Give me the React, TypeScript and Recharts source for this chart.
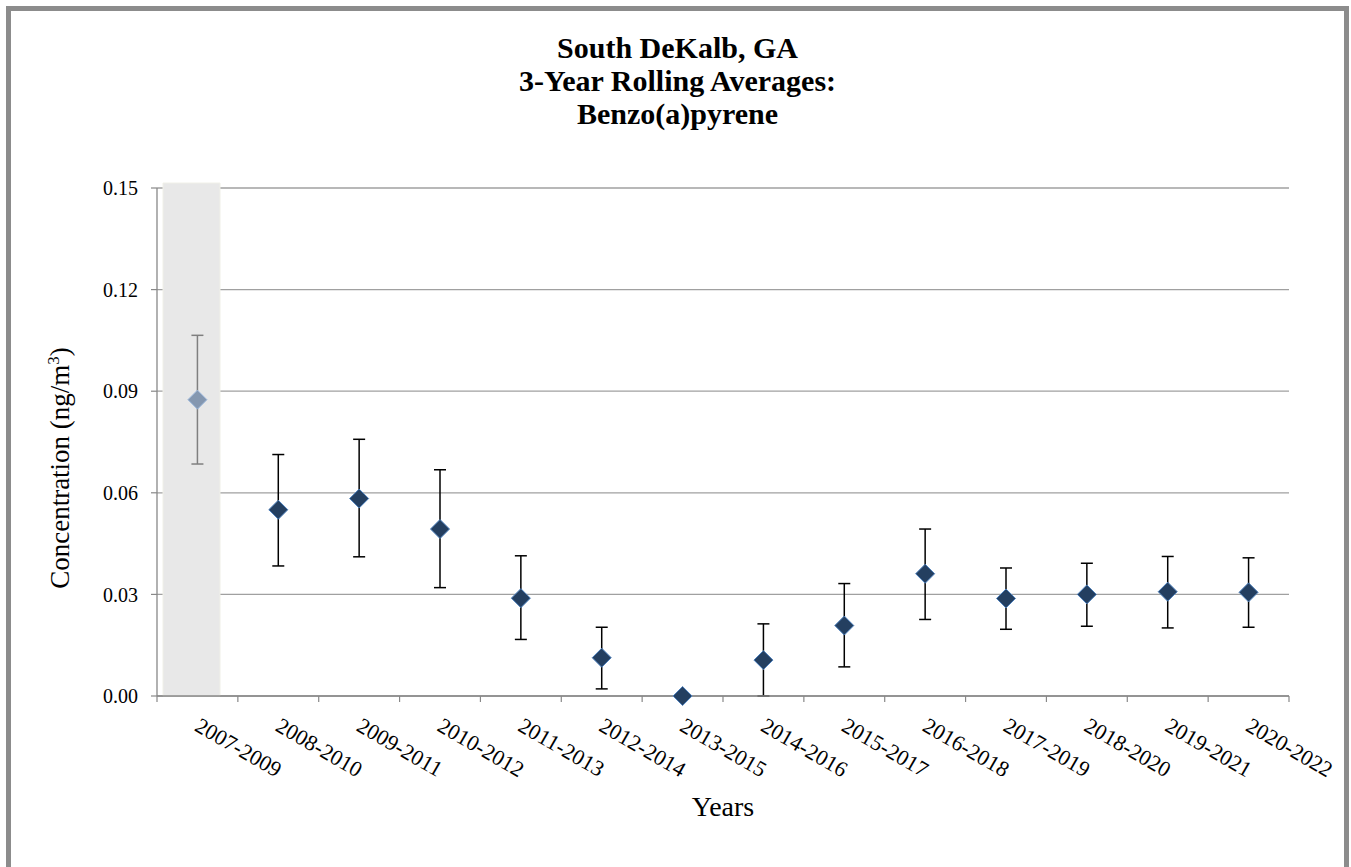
import { ComposedChart, Bar, Line, XAxis, YAxis, CartesianGrid, ErrorBar, Rectangle } from 'recharts';

const periods = ['2007-2009', '2008-2010', '2009-2011', '2010-2012', '2011-2013', '2012-2014', '2013-2015',
  '2014-2016', '2015-2017', '2016-2018', '2017-2019', '2018-2020', '2019-2021', '2020-2022'];
const averages = [0.0875, 0.0550, 0.0583, 0.0493, 0.0289, 0.0113, 0.0000, 0.0106, 0.0208, 0.0361, 0.0288, 0.0300, 0.0308, 0.0306];
const upperCI = [0.1065, 0.0713, 0.0758, 0.0668, 0.0414, 0.0203, 0.0000, 0.0213, 0.0332, 0.0493, 0.0378, 0.0392, 0.0412, 0.0408];
const lowerCI = [0.0685, 0.0384, 0.0411, 0.0320, 0.0167, 0.0021, 0.0000, 0.0000, 0.0086, 0.0226, 0.0197, 0.0206, 0.0201, 0.0203];
const shadedPeriods = ['2007-2009'];
const shadeHeight = 0.15;
const yTicks = [0, 0.03, 0.06, 0.09, 0.12, 0.15];

const rows = periods.map((p, i) => {
  const shaded = shadedPeriods.includes(p);
  const err = [averages[i] - lowerCI[i], upperCI[i] - averages[i]];
  return {
    period: p,
    shade: shaded ? shadeHeight : null,
    early: shaded ? averages[i] : null,
    earlyErr: shaded ? err : null,
    recent: shaded ? null : averages[i],
    recentErr: shaded ? null : err,
  };
});

const CHART_W = 1333;
const CHART_H = 856;
const MARGIN = { top: 177, right: 55, left: 0, bottom: 0 };
const BAND = (CHART_W - 146 - MARGIN.right) / periods.length;
const SERIF = '"Liberation Serif", "Times New Roman", serif';

function diamond(fill: string, stroke: string) {
  return (props: any) => {
    const { cx, cy, index } = props;
    if (cx == null || cy == null || props.value == null) return <g key={`d-${index}`} />;
    const r = 9.5;
    return (
      <path
        key={`d-${index}`}
        d={`M${cx},${cy - r}L${cx + r},${cy}L${cx},${cy + r}L${cx - r},${cy}Z`}
        fill={fill}
        stroke={stroke}
        strokeWidth={1}
      />
    );
  };
}

// the shaded column sits a little left of the band centre and pokes above the top gridline
function ShadeShape(props: any) {
  const { x, y, width, height } = props;
  if (!height) return null;
  return <Rectangle x={x - 6} y={y - 5} width={width} height={height + 5} fill="#e8e8e8" stroke="#f0f0e8" />;
}

function PeriodTick(props: any) {
  const { x, y, payload, index } = props;
  const tx = x - 4;
  const ty = y + 34;
  return (
    <g>
      <line x1={x - BAND / 2} y1={y} x2={x - BAND / 2} y2={y + 6} stroke="#888" strokeWidth={1.2} />
      {index === periods.length - 1 && (
        <line x1={x + BAND / 2} y1={y} x2={x + BAND / 2} y2={y + 6} stroke="#888" strokeWidth={1.2} />
      )}
      <text x={tx} y={ty} transform={`rotate(30, ${tx}, ${ty})`} textAnchor="start"
        fontFamily={SERIF} fontSize={22} fill="#000">
        {payload.value}
      </text>
    </g>
  );
}

export default function App() {
  return (
    <div style={{ position: 'absolute', left: 6, top: 6, width: CHART_W, height: CHART_H + 20,
      border: '5px solid #8c8c8c', background: '#fff' }}>
      <div style={{ position: 'absolute', left: 0, top: 20, width: '100%', textAlign: 'center',
        fontFamily: SERIF, fontWeight: 'bold', fontSize: 30, lineHeight: '33px', color: '#000' }}>
        South DeKalb, GA<br />3-Year Rolling Averages:<br />Benzo(a)pyrene
      </div>
      <ComposedChart width={CHART_W} height={CHART_H} data={rows} margin={MARGIN}>
        <CartesianGrid vertical={false} stroke="#a0a0a0" strokeWidth={1.3} />
        <XAxis dataKey="period" type="category" height={171} tickLine={false} tickSize={0} tickMargin={0}
          axisLine={{ stroke: '#888', strokeWidth: 1.3 }} tick={<PeriodTick />} interval={0}
          label={{
            content: (p: any) => (
              <text x={p.viewBox.x + p.viewBox.width / 2} y={p.viewBox.y + 120} textAnchor="middle"
                fontFamily={SERIF} fontSize={28} fill="#000">Years</text>
            ),
          }} />
        <YAxis type="number" width={146} domain={[0, 0.15]} ticks={yTicks} interval={0}
          tickFormatter={(v: number) => v.toFixed(2)} tickSize={6} tickMargin={13}
          tickLine={{ stroke: '#888', strokeWidth: 1.2 }} axisLine={{ stroke: '#888', strokeWidth: 1.3 }}
          tick={{ fontFamily: SERIF, fontSize: 20, fill: '#000' }}
          label={{
            content: (p: any) => {
              const cx = 58;
              const cy = p.viewBox.y + p.viewBox.height / 2 + 26;
              return (
                <text x={cx} y={cy} transform={`rotate(-90, ${cx}, ${cy})`} textAnchor="middle"
                  fontFamily={SERIF} fontSize={27} fill="#000">
                  Concentration (ng/m<tspan dy={-10} fontSize={17}>3</tspan><tspan dy={10}>)</tspan>
                </text>
              );
            },
          }} />
        <Bar dataKey="shade" barSize={57} isAnimationActive={false} shape={<ShadeShape />} />
        <Line dataKey="early" stroke="none" isAnimationActive={false} dot={diamond('#8497b0', '#9bb7dc')}
          activeDot={false} connectNulls={false}>
          <ErrorBar dataKey="earlyErr" width={6} stroke="#7f7f7f" strokeWidth={1.5} direction="y" />
        </Line>
        <Line dataKey="recent" stroke="none" isAnimationActive={false} dot={diamond('#243f60', '#4a7ebb')}
          activeDot={false} connectNulls={false}>
          <ErrorBar dataKey="recentErr" width={6} stroke="#000" strokeWidth={1.5} direction="y" />
        </Line>
      </ComposedChart>
    </div>
  );
}
